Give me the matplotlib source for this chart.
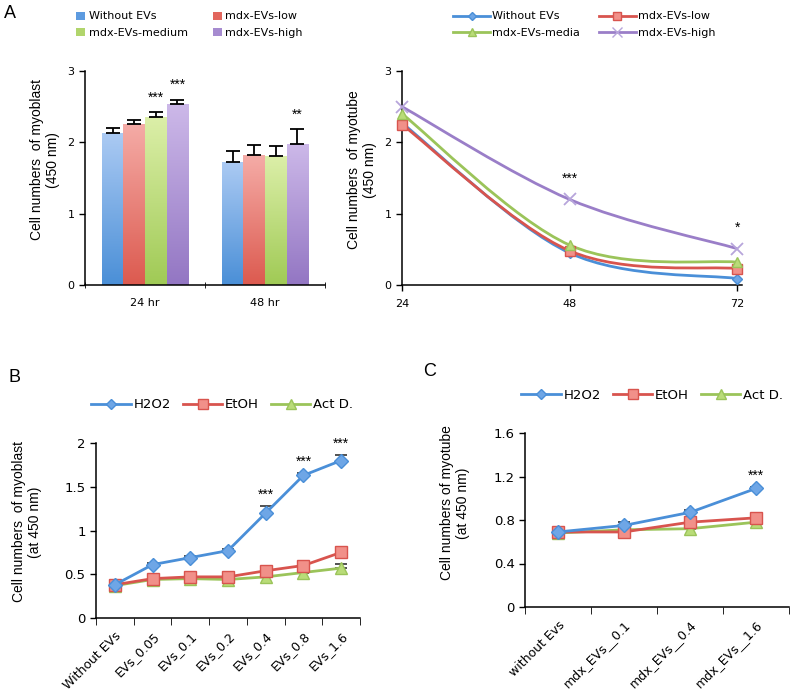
import numpy as np
import matplotlib
matplotlib.use('Agg')
import matplotlib.pyplot as plt
from matplotlib.path import Path
from matplotlib.patches import PathPatch, Patch
from matplotlib.lines import Line2D
from matplotlib.colors import LinearSegmentedColormap

plt.rcParams['font.family'] = 'DejaVu Sans'

# ---- data ----
# panel A, bars (myoblast)
groups = ['24 hr', '48 hr']
bar_names = ['Without EVs', 'mdx-EVs-low', 'mdx-EVs-medium', 'mdx-EVs-high']
bar_vals = [[2.13, 1.72], [2.26, 1.82], [2.36, 1.81], [2.54, 1.98]]
bar_err = [[0.07, 0.16], [0.06, 0.14], [0.07, 0.14], [0.06, 0.20]]
bar_stars = [['', ''], ['', ''], ['***', ''], ['***', '**']]

# panel A, lines (myotube)
hours = [24, 48, 72]
line_names = ['Without EVs', 'mdx-EVs-low', 'mdx-EVs-media', 'mdx-EVs-high']
myotube = [[2.27, 0.45, 0.09],
           [2.25, 0.48, 0.23],
           [2.40, 0.56, 0.32],
           [2.50, 1.20, 0.51]]
myotube_stars = ['', '***', '*']

# panel B
b_cats = ['Without EVs', 'EVs_0.05', 'EVs_0.1', 'EVs_0.2', 'EVs_0.4', 'EVs_0.8', 'EVs_1.6']
b_h2o2 = [0.38, 0.61, 0.69, 0.77, 1.20, 1.63, 1.80]
b_h2o2_err = [0.01, 0.02, 0.02, 0.02, 0.08, 0.03, 0.06]
b_etoh = [0.38, 0.45, 0.47, 0.47, 0.54, 0.60, 0.75]
b_etoh_err = [0.01, 0.01, 0.01, 0.01, 0.02, 0.02, 0.02]
b_actd = [0.37, 0.44, 0.45, 0.44, 0.47, 0.52, 0.57]
b_actd_err = [0.01, 0.01, 0.01, 0.01, 0.01, 0.02, 0.05]
b_stars = ['', '', '', '', '***', '***', '***']
b_yticks = ['0', '0.5', '1', '1.5', '2']

# panel C
c_cats = ['without Evs', 'mdx_EVs__0.1', 'mdx_EVs__0.4', 'mdx_EVs__1.6']
c_h2o2 = [0.69, 0.75, 0.87, 1.09]
c_h2o2_err = [0.01, 0.03, 0.02, 0.01]
c_etoh = [0.69, 0.69, 0.78, 0.82]
c_etoh_err = [0.01, 0.01, 0.01, 0.01]
c_actd = [0.68, 0.71, 0.72, 0.78]
c_actd_err = [0.01, 0.01, 0.01, 0.01]
c_stars = ['', '', '', '***']
c_yticks = ['0', '0.4', '0.8', '1.2', '1.6']
treat_names = ['H2O2', 'EtOH', 'Act D.']

# ---- style ----
W, H = 793, 697
bar_top = ['#abcaf3', '#f5aca7', '#dcefa9', '#cdb9e9']
bar_bot = ['#4a8fd7', '#dc5a4f', '#a0ca55', '#9376c3']
leg_sq = ['#5d9be0', '#e2665d', '#b1d56c', '#a68bd0']
line_col = ['#4a8fd8', '#d8544e', '#9bc45a', '#9a7ec8']
mk_fill = ['#6ea6e6', '#f19089', '#b9dc78', '#9a7ec8']
markers = ['D', 's', '^', 'x']
mk_size = [5, 7, 7, 8]
ylab_font = 'Liberation Sans'
leg_order = [0, 2, 1, 3]   # row-wise legend with ncol=2


def fig_axes(x0, y0, x1, y1):
    # pixel box (top-left origin) -> figure axes
    return fig.add_axes([x0 / W, 1 - y1 / H, (x1 - x0) / W, (y1 - y0) / H])


def style_spines(ax):
    ax.spines['top'].set_visible(False)
    ax.spines['right'].set_visible(False)
    ax.spines['left'].set_linewidth(1.1)
    ax.spines['bottom'].set_linewidth(1.1)
    ax.tick_params(direction='out', length=4, width=1.0)


def smooth_path(xs, ys):
    # catmull-rom style bezier through the points (like Excel's smoothed line)
    px = [xs[0]] + list(xs) + [xs[-1]]
    py = [ys[0]] + list(ys) + [ys[-1]]
    verts = [(xs[0], ys[0])]
    codes = [Path.MOVETO]
    for i in range(1, len(px) - 2):
        c1 = (px[i] + (px[i + 1] - px[i - 1]) / 6, py[i] + (py[i + 1] - py[i - 1]) / 6)
        c2 = (px[i + 1] - (px[i + 2] - px[i]) / 6, py[i + 1] - (py[i + 2] - py[i]) / 6)
        verts += [c1, c2, (px[i + 1], py[i + 1])]
        codes += [Path.CURVE4] * 3
    return Path(verts, codes)


fig = plt.figure(figsize=(W / 100, H / 100), dpi=100)

# ================= A left: bars =================
ax = fig_axes(85, 71, 325, 285)
style_spines(ax)
bw = 0.18
xg = np.arange(len(groups))
for k in range(len(bar_names)):
    xs = xg + (k - 1.5) * bw
    bars = ax.bar(xs, bar_vals[k], bw, color='none', edgecolor='none', zorder=2)
    cmap = LinearSegmentedColormap.from_list('g%d' % k, [bar_bot[k], bar_top[k]])
    grad = np.linspace(0, 1, 256).reshape(-1, 1)
    for b in bars:
        im = ax.imshow(grad, cmap=cmap, origin='lower', aspect='auto',
                       extent=[b.get_x(), b.get_x() + b.get_width(), 0, b.get_height()],
                       zorder=2)
        im.set_clip_path(b)
    ax.errorbar(xs, bar_vals[k], yerr=[[0, 0], bar_err[k]], fmt='none',
                ecolor='black', elinewidth=1.3, capsize=5, capthick=1.3, zorder=3)
    for j in range(len(groups)):
        if bar_stars[k][j]:
            ax.text(xs[j], bar_vals[k][j] + bar_err[k][j] + 0.2, bar_stars[k][j],
                    ha='center', va='center', fontsize=10, family=ylab_font)
ax.set_xlim(-0.5, 1.5)
ax.set_ylim(0, 3)
ax.set_yticks([0, 1, 2, 3])
ax.set_xticks(xg)
ax.set_xticklabels(groups)
ax.set_xticks([-0.5, 0.5, 1.5], minor=True)
ax.tick_params(axis='x', which='major', length=0, pad=9)
ax.tick_params(axis='x', which='minor', length=4, direction='inout')
ax.tick_params(labelsize=8)
fig.text(45 / W, 1 - 160 / H, 'Cell numbers  of myoblast\n(450 nm)', rotation=90,
         ha='center', va='center', multialignment='center', fontsize=10,
         family=ylab_font, linespacing=1.15)

handles = [Patch(facecolor=leg_sq[k], edgecolor='none') for k in leg_order]
fig.legend(handles, [bar_names[k] for k in leg_order], loc='upper left',
           bbox_to_anchor=(72 / W, 1 - 7 / H),
           ncol=2, frameon=False, fontsize=8, handlelength=0.75, handleheight=0.75,
           handletextpad=0.35, labelspacing=0.6, columnspacing=2.3, borderaxespad=0)

# ================= A right: lines =================
ax = fig_axes(402, 71, 742, 285)
style_spines(ax)
for k in range(len(line_names)):
    ax.add_patch(PathPatch(smooth_path(hours, myotube[k]), facecolor='none',
                           edgecolor=line_col[k], lw=2, zorder=2))
    ax.plot(hours, myotube[k], ls='none', marker=markers[k], ms=mk_size[k],
            mfc=mk_fill[k], mec=line_col[k] if k < 3 else '#b7a5db',
            mew=1 if k < 3 else 1.3, zorder=3, clip_on=False)
for j, s in enumerate(myotube_stars):
    if s:
        ax.text(hours[j], myotube[3][j] + 0.29, s, ha='center', va='center',
                fontsize=10, family=ylab_font)
ax.set_xlim(24, 72.7)
ax.set_ylim(0, 3)
ax.set_xticks(hours)
ax.set_yticks([0, 1, 2, 3])
ax.tick_params(labelsize=8)
ax.tick_params(axis='x', pad=6)
fig.text(362 / W, 1 - 170 / H, 'Cell numbers  of myotube\n(450 nm)', rotation=90,
         ha='center', va='center', multialignment='center', fontsize=10,
         family=ylab_font, linespacing=1.15)

lh = [Line2D([], [], color=line_col[k], lw=2, marker=markers[k], ms=mk_size[k] - 1,
             mfc=mk_fill[k], mec=line_col[k] if k < 3 else '#b7a5db') for k in leg_order]
fig.legend(lh, [line_names[k] for k in leg_order], loc='upper left',
           bbox_to_anchor=(449 / W, 1 - 7 / H),
           ncol=2, frameon=False, fontsize=8, handlelength=3.3, handletextpad=0.2,
           labelspacing=0.6, columnspacing=1.7, borderaxespad=0)

fig.text(4 / W, 1 - 14 / H, 'A', fontsize=13, family=ylab_font, va='center')


# ================= B and C =================
def treat_panel(box, cats, series, errs, stars, ylim, yticks, ylabels, ylabel,
                lab_xy, leg_x, leg_y):
    ax = fig_axes(*box)
    style_spines(ax)
    x = np.arange(len(cats))
    for k in range(3):
        ax.errorbar(x, series[k], yerr=[np.zeros(len(x)), errs[k]], fmt='none',
                    ecolor='#333333', elinewidth=1.2, capsize=4, capthick=1.2, zorder=2)
        ax.plot(x, series[k], color=line_col[k], lw=2, marker=markers[k],
                ms=mk_size[k] + (2 if k == 0 else 1), mfc=mk_fill[k],
                mec=line_col[k], mew=1, zorder=3 + (2 - k))
    top = np.array(series[0]) + np.array(errs[0])
    for j, s in enumerate(stars):
        if s:
            ax.text(x[j], top[j] + 0.13 * ylim[1] / 2, s, ha='center', va='center',
                    fontsize=10, family=ylab_font)
    ax.set_xlim(-0.5, len(cats) - 0.5)
    ax.set_ylim(*ylim)
    ax.set_yticks(yticks)
    ax.set_yticklabels(ylabels)
    ax.set_xticks(x)
    ax.set_xticklabels(cats, rotation=45, ha='right', rotation_mode='anchor')
    ax.set_xticks(np.arange(len(cats) + 1) - 0.5, minor=True)
    ax.tick_params(axis='x', which='major', length=0, pad=8)
    ax.tick_params(axis='x', which='minor', length=5)
    ax.tick_params(axis='y', labelsize=9.5)
    ax.tick_params(axis='x', labelsize=9)
    fig.text(lab_xy[0] / W, 1 - lab_xy[1] / H, ylabel, rotation=90, ha='center',
             va='center', multialignment='center', fontsize=10, family=ylab_font,
             linespacing=1.15)
    lh = [Line2D([], [], color=line_col[k], lw=2, marker=markers[k], ms=mk_size[k],
                 mfc=mk_fill[k], mec=line_col[k]) for k in range(3)]
    fig.legend(lh, treat_names, loc='center left', bbox_to_anchor=(leg_x / W, 1 - leg_y / H),
               ncol=3, frameon=False, fontsize=9.5, handlelength=3.0, handletextpad=0.2,
               columnspacing=0.9, borderaxespad=0)
    return ax


treat_panel((96, 443, 360, 618), b_cats, [b_h2o2, b_etoh, b_actd],
            [b_h2o2_err, b_etoh_err, b_actd_err], b_stars, (0, 2), [0, 0.5, 1, 1.5, 2],
            b_yticks, 'Cell numbers  of myoblast\n(at 450 nm)', (27, 522), 86, 405)
treat_panel((525, 433, 789, 607), c_cats, [c_h2o2, c_etoh, c_actd],
            [c_h2o2_err, c_etoh_err, c_actd_err], c_stars, (0, 1.6),
            [0, 0.4, 0.8, 1.2, 1.6], c_yticks,
            'Cell numbers of myotube\n(at 450 nm)', (455, 503), 516, 395)

fig.text(8 / W, 1 - 377 / H, 'B', fontsize=13, family=ylab_font, va='center')
fig.text(423 / W, 1 - 372 / H, 'C', fontsize=13, family=ylab_font, va='center')

fig.savefig('out.png', dpi=100)
